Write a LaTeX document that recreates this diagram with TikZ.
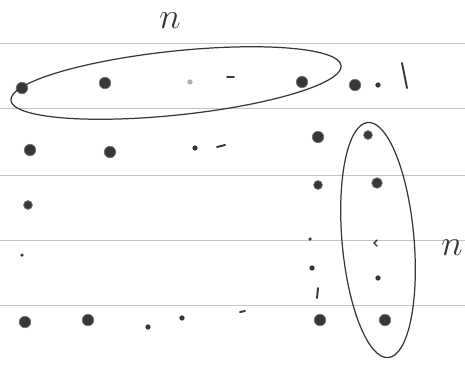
\documentclass[tikz,border=0pt]{standalone}
\usepackage{tikz}
\usetikzlibrary{positioning}
\definecolor{rulecol}{RGB}{185,198,216}
\definecolor{inkcol}{RGB}{55,55,55}

\begin{document}
\begin{tikzpicture}[
  x=0.02cm, y=-0.02cm,
  ruled/.style={draw=rulecol, line width=0.5pt},
  dot/.style={circle, fill=inkcol, draw=inkcol!70, inner sep=0pt, minimum size=6.5pt},
  sdot/.style={circle, fill=inkcol, inner sep=0pt, minimum size=3pt},
  tick/.style={inkcol, line width=1.1pt, line cap=round},
  loop/.style={draw=inkcol, line width=0.7pt},
  lbl/.style={font=\huge, text=inkcol, inner sep=0pt}
]
\useasboundingbox (0,0) rectangle (465,370);

%% Ruled lines of the paper
\foreach \yy in {43,108,175,240,305}
  \draw[ruled] (0,\yy) -- (465,\yy);

%% Top row
\node[dot]  (a1) at (22,88)  {};
\node[dot]  (a2) at (105,83) {};
\node[sdot, fill=inkcol!40] (a3) at (190,82) {};
\draw[tick] (227,77) -- (234,77);
\node[dot]  (a4) at (302,82) {};
\node[dot]  (a5) at (355,85) {};
\node[sdot] (a6) at (378,85) {};
\draw[tick] (402,63) -- (407,88);

%% Second row
\node[dot]  (b1) at (30,150)  {};
\node[dot]  (b2) at (110,152) {};
\node[sdot] (b3) at (195,148) {};
\draw[tick] (217,147) -- (225,145);
\node[dot]  (b4) at (318,137) {};
\node[dot, minimum size=5pt] (b5) at (368,135) {};

%% Third row
\node[dot, minimum size=5pt] (c1) at (28,205)  {};
\node[dot, minimum size=5pt] (c4) at (318,185) {};
\node[dot, minimum size=6pt] (c5) at (377,183) {};

%% Fourth row (dots fading out)
\node[sdot, minimum size=2pt] (d1) at (22,255) {};
\node[sdot, minimum size=2pt] (d4) at (310,239) {};
\draw[tick, line width=0.8pt] (377,240) -- (374,243) -- (377,246);
\node[sdot] (e4) at (312,268) {};
\node[sdot] (e5) at (378,278) {};
\draw[tick] (318,288) -- (317,298);

%% Bottom row
\node[dot]  (f1) at (25,322)  {};
\node[dot]  (f2) at (88,320)  {};
\node[sdot] (f3) at (148,327) {};
\node[sdot] (f4) at (182,318) {};
\draw[tick] (240,312) -- (245,311);
\node[dot]  (f5) at (320,320) {};
\node[dot]  (f6) at (385,320) {};

%% Loops round the top row and the right column
\draw[loop, rotate around={6:(176,83)}] (176,83) ellipse [x radius=166, y radius=32];
\draw[loop, rotate around={5:(378,240)}] (378,240) ellipse [x radius=36, y radius=118];

%% Labels
\node[lbl] (ntop)   at (170,21)  {$n$};
\node[lbl] (nright) at (452,248) {$n$};
\end{tikzpicture}
\end{document}
